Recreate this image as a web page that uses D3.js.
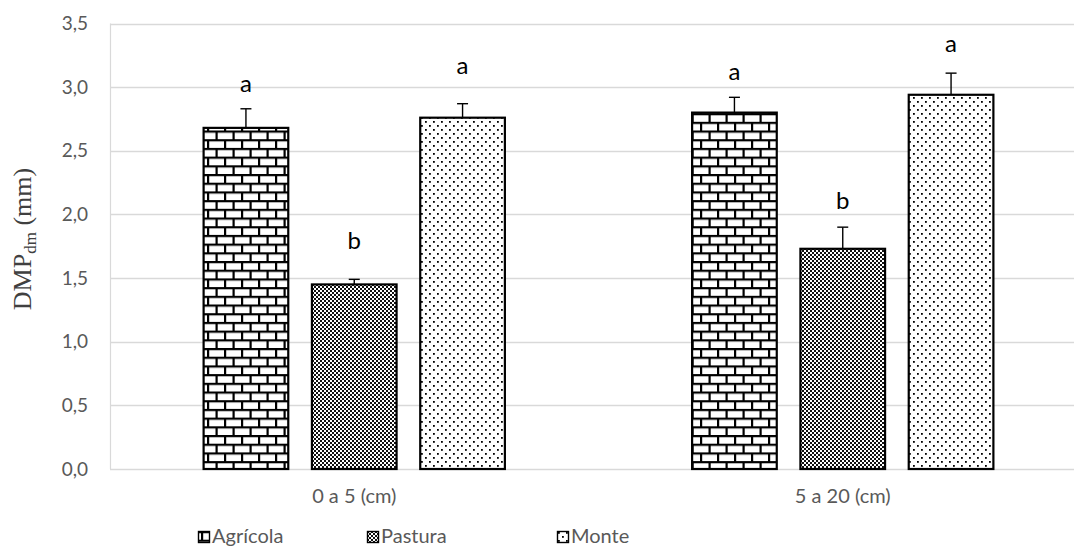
<!DOCTYPE html>
<html>
<head>
<meta charset="utf-8">
<script src="https://cdn.jsdelivr.net/npm/d3@7"></script>
<style>
  body { margin: 0; background: #fff; }
  svg { display: block; }
</style>
</head>
<body>
<svg id="chart" width="1074" height="549"></svg>
<script>
// Sampling depths and land uses
const depths = ["0 a 5 (cm)", "5 a 20 (cm)"];
const landUses = ["Agrícola", "Pastura", "Monte"];

// Mean weight diameter (mm) per land use, one value per depth
const agricola = [2.68, 2.80];
const pastura = [1.45, 1.73];
const monte = [2.76, 2.94];

// Standard errors
const agricolaErr = [0.15, 0.12];
const pasturaErr = [0.04, 0.17];
const monteErr = [0.11, 0.17];

// Significance letters and the level (mm) at which each one sits
const agricolaLetters = ["a", "a"];
const pasturaLetters = ["b", "b"];
const monteLetters = ["a", "a"];
const agricolaLetterAt = [2.96, 3.055];
const pasturaLetterAt = [1.73, 2.045];
const monteLetterAt = [3.10, 3.275];

const yTicks = [0, 0.5, 1.0, 1.5, 2.0, 2.5, 3.0, 3.5];

const series = [
  { name: landUses[0], values: agricola, err: agricolaErr, letters: agricolaLetters, letterAt: agricolaLetterAt, fill: "url(#brick)" },
  { name: landUses[1], values: pastura, err: pasturaErr, letters: pasturaLetters, letterAt: pasturaLetterAt, fill: "url(#checker)" },
  { name: landUses[2], values: monte, err: monteErr, letters: monteLetters, letterAt: monteLetterAt, fill: "url(#dots)" }
];

const svg = d3.select("#chart");
const plot = { left: 110, right: 1087, top: 23.5, bottom: 469 };
const sans = "Lato, 'Open Sans', sans-serif";

// ---- fill patterns ----
const defs = svg.append("defs");

// horizontal brick
const brick = defs.append("pattern").attr("id", "brick")
  .attr("patternUnits", "userSpaceOnUse").attr("width", 17).attr("height", 17.4);
brick.append("rect").attr("width", 17).attr("height", 17.4).attr("fill", "#fff");
brick.append("rect").attr("x", 0).attr("y", 0).attr("width", 17).attr("height", 2.2).attr("fill", "#000");
brick.append("rect").attr("x", 0).attr("y", 8.7).attr("width", 17).attr("height", 2.2).attr("fill", "#000");
brick.append("rect").attr("x", 3).attr("y", 0).attr("width", 2.2).attr("height", 8.7).attr("fill", "#000");
brick.append("rect").attr("x", 11.5).attr("y", 8.7).attr("width", 2.2).attr("height", 8.7).attr("fill", "#000");

// small checkerboard
const checker = defs.append("pattern").attr("id", "checker")
  .attr("patternUnits", "userSpaceOnUse").attr("width", 4).attr("height", 4);
checker.append("rect").attr("width", 4).attr("height", 4).attr("fill", "#fff");
checker.append("rect").attr("x", 0).attr("y", 0).attr("width", 2).attr("height", 2).attr("fill", "#111");
checker.append("rect").attr("x", 2).attr("y", 2).attr("width", 2).attr("height", 2).attr("fill", "#111");

// sparse dots
const dots = defs.append("pattern").attr("id", "dots")
  .attr("patternUnits", "userSpaceOnUse").attr("width", 8).attr("height", 8);
dots.append("rect").attr("width", 8).attr("height", 8).attr("fill", "#fff");
dots.append("rect").attr("x", 1).attr("y", 1).attr("width", 1.8).attr("height", 1.8).attr("fill", "#000");
dots.append("rect").attr("x", 5).attr("y", 5).attr("width", 1.8).attr("height", 1.8).attr("fill", "#000");

// ---- scales ----
const y = d3.scaleLinear().domain([0, 3.5]).range([plot.bottom, plot.top]);
const x0 = d3.scaleBand().domain(depths).range([plot.left, plot.right]).padding(0);
const x1 = d3.scaleBand().domain(landUses).range([0, x0.bandwidth()])
  .paddingInner(0.2).paddingOuter(0.855);

// ---- gridlines ----
svg.append("g")
  .selectAll("line").data(yTicks).join("line")
  .attr("x1", plot.left).attr("x2", 1074)
  .attr("y1", d => Math.round(y(d)) + 0.5).attr("y2", d => Math.round(y(d)) + 0.5)
  .attr("stroke", "#d9d9d9").attr("stroke-width", 1.6);

svg.append("line")
  .attr("x1", plot.left + 0.5).attr("x2", plot.left + 0.5)
  .attr("y1", y(3.5)).attr("y2", y(0))
  .attr("stroke", "#d9d9d9").attr("stroke-width", 1.2);

// ---- y axis ----
const yAxis = svg.append("g")
  .attr("transform", `translate(${plot.left},0)`)
  .call(d3.axisLeft(y).tickValues(yTicks).tickSize(0).tickPadding(22)
    .tickFormat(d => d3.format(".1f")(d).replace(".", ",")));
yAxis.select(".domain").remove();
yAxis.selectAll("text")
  .attr("font-family", sans)
  .attr("font-size", 19).attr("fill", "#595959");

// ---- x axis ----
const xAxis = svg.append("g")
  .attr("transform", `translate(0,${plot.bottom})`)
  .call(d3.axisBottom(x0).tickSize(0).tickPadding(20));
xAxis.select(".domain").remove();
xAxis.selectAll("text")
  .attr("font-family", sans)
  .attr("font-size", 20).attr("fill", "#595959");

// ---- bars ----
const groups = svg.append("g").selectAll("g").data(series).join("g");

groups.selectAll("rect")
  .data(s => depths.map((d, i) => ({ depth: d, v: s.values[i], s })))
  .join("rect")
  .attr("x", d => x0(d.depth) + x1(d.s.name) + 1)
  .attr("width", x1.bandwidth() - 2)
  .attr("y", d => y(d.v))
  .attr("height", d => y(0) - y(d.v))
  .attr("fill", d => d.s.fill)
  .attr("stroke", "#000").attr("stroke-width", 2.2);

// ---- error bars (upper) ----
groups.selectAll("g.err")
  .data(s => depths.map((d, i) => ({ depth: d, v: s.values[i], e: s.err[i], s })))
  .join("g").attr("class", "err")
  .each(function (d) {
    const cx = x0(d.depth) + x1(d.s.name) + x1.bandwidth() / 2;
    const g = d3.select(this);
    g.append("line").attr("x1", cx).attr("x2", cx)
      .attr("y1", y(d.v)).attr("y2", y(d.v + d.e))
      .attr("stroke", "#000").attr("stroke-width", 1.4);
    g.append("line").attr("x1", cx - 5.5).attr("x2", cx + 5.5)
      .attr("y1", y(d.v + d.e)).attr("y2", y(d.v + d.e))
      .attr("stroke", "#000").attr("stroke-width", 1.4);
  });

// ---- significance letters ----
groups.selectAll("text.letter")
  .data(s => depths.map((d, i) => ({ depth: d, t: s.letters[i], at: s.letterAt[i], s })))
  .join("text").attr("class", "letter")
  .attr("x", d => x0(d.depth) + x1(d.s.name) + x1.bandwidth() / 2)
  .attr("y", d => y(d.at))
  .attr("text-anchor", "middle")
  .attr("font-family", sans)
  .attr("font-size", 24).attr("fill", "#000")
  .text(d => d.t);

// ---- y axis title ----
const title = svg.append("text")
  .attr("transform", "translate(31,239) rotate(-90)")
  .attr("text-anchor", "middle")
  .attr("font-family", "'Liberation Serif', 'Times New Roman', serif")
  .attr("font-size", 26).attr("fill", "#404040");
title.append("tspan").text("DMP");
title.append("tspan").attr("font-size", 17).attr("dy", 5).text("dm");
title.append("tspan").attr("dy", -5).text(" (mm)");

// ---- legend ----
const legendX = [198, 367, 557];
const legend = svg.append("g").selectAll("g").data(series).join("g")
  .attr("transform", (d, i) => `translate(${legendX[i]},531)`);
legend.append("rect")
  .attr("x", 0.5).attr("y", 0.5).attr("width", 11).attr("height", 11)
  .attr("fill", d => d.fill).attr("stroke", "#000").attr("stroke-width", 1.4);
legend.append("text")
  .attr("x", 14).attr("y", 12)
  .attr("font-family", sans)
  .attr("font-size", 20).attr("fill", "#595959")
  .text(d => d.name);
</script>
</body>
</html>
